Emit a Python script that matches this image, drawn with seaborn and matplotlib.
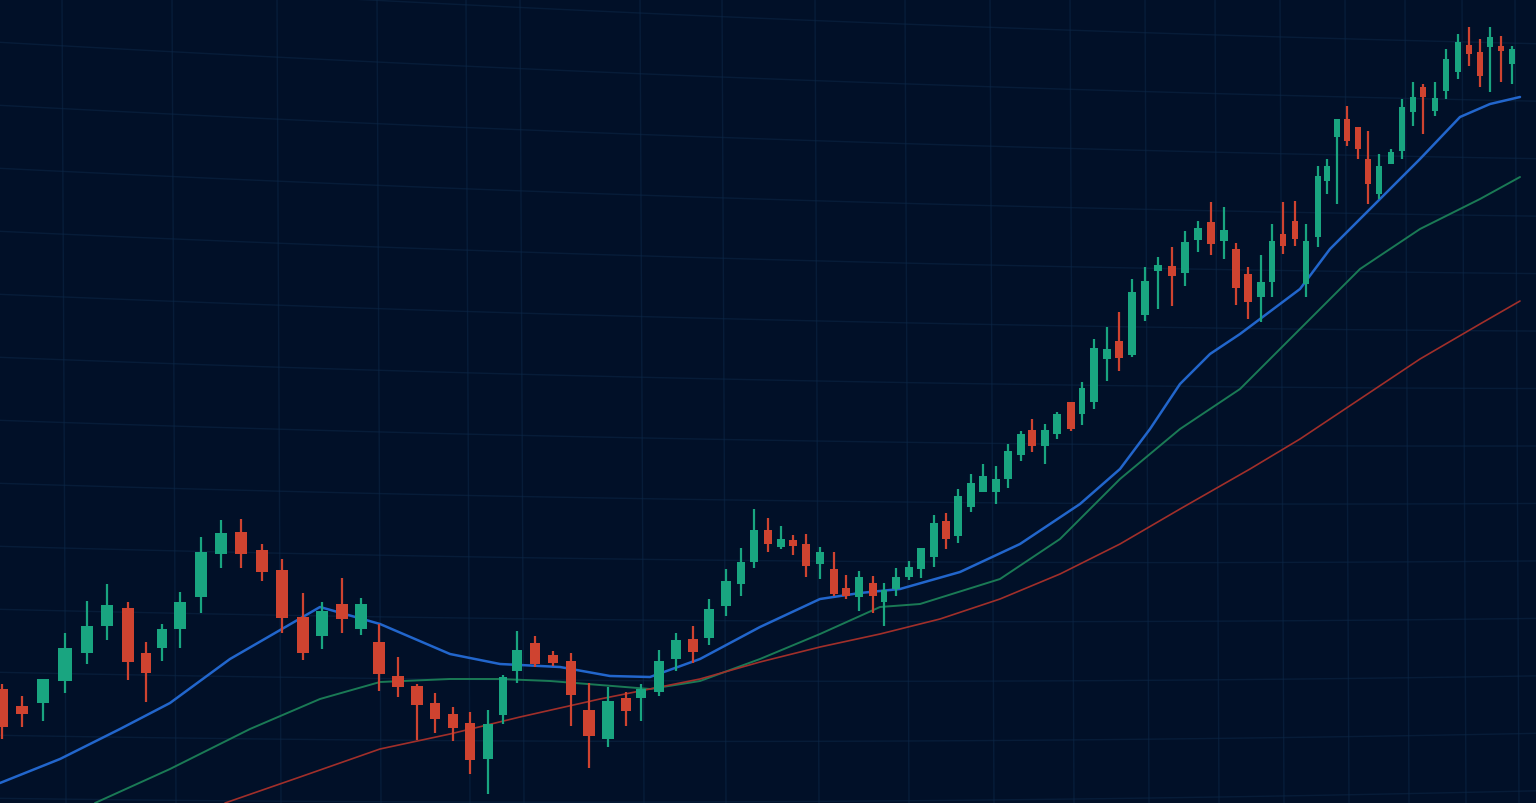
import numpy as np
import pandas as pd
import matplotlib
matplotlib.use("Agg")
import matplotlib.pyplot as plt
import seaborn as sns

# candle data (time, open, close, high, low in screen-like units, larger = lower)
t = [2, 22, 43, 65, 87, 107, 128, 146, 162, 180, 201, 221, 241, 262, 282, 303, 322, 342, 361, 379,
     398, 417, 435, 453, 470, 488, 503, 517, 535, 553, 571, 589, 608, 626, 641, 659, 676, 693, 709, 726,
     741, 754, 768, 781, 793, 806, 820, 834, 846, 859, 873, 884, 896, 909, 921, 934, 946, 958, 971, 983,
     996, 1008, 1021, 1032, 1045, 1057, 1071, 1082, 1094, 1107, 1119, 1132, 1145, 1158, 1172, 1185, 1198, 1211, 1224, 1236,
     1248, 1261, 1272, 1283, 1295, 1306, 1318, 1327, 1337, 1347, 1358, 1368, 1379, 1391, 1402, 1413, 1423, 1435, 1446, 1458,
     1469, 1480, 1490, 1501, 1512]
o = [690, 707, 704, 682, 654, 627, 609, 654, 649, 630, 598, 555, 533, 551, 571, 618, 637, 605, 630, 643,
     677, 687, 704, 715, 724, 760, 716, 672, 644, 656, 662, 711, 740, 699, 699, 693, 660, 640, 639, 607,
     585, 563, 531, 548, 541, 545, 565, 570, 589, 598, 584, 603, 590, 578, 570, 558, 522, 537, 508, 493,
     493, 480, 456, 431, 447, 435, 403, 415, 403, 360, 342, 356, 316, 272, 267, 274, 241, 223, 242, 250,
     275, 298, 283, 235, 222, 285, 238, 182, 138, 120, 128, 160, 195, 165, 152, 113, 88, 112, 92, 73,
     46, 53, 48, 47, 65]
c = [728, 715, 680, 649, 627, 606, 663, 674, 630, 603, 553, 534, 555, 573, 619, 654, 612, 620, 605, 675,
     688, 706, 720, 729, 761, 725, 678, 651, 665, 664, 696, 737, 702, 712, 690, 662, 641, 653, 610, 582,
     563, 531, 545, 540, 547, 567, 553, 595, 597, 578, 597, 591, 578, 568, 549, 524, 540, 497, 484, 477,
     480, 452, 435, 447, 431, 415, 430, 389, 349, 350, 359, 293, 282, 266, 277, 243, 229, 245, 231, 289,
     303, 283, 242, 247, 240, 242, 177, 167, 120, 142, 150, 185, 167, 153, 108, 98, 98, 99, 60, 43,
     55, 77, 38, 52, 50]
hi = [685, 697, 680, 634, 602, 585, 603, 643, 625, 593, 538, 521, 520, 545, 560, 594, 603, 579, 599, 625,
      658, 685, 694, 708, 713, 711, 676, 632, 637, 652, 654, 684, 688, 693, 685, 651, 634, 627, 600, 570,
      549, 510, 519, 527, 536, 535, 548, 553, 576, 572, 577, 584, 569, 562, 549, 516, 514, 490, 475, 465,
      467, 445, 432, 420, 425, 413, 403, 383, 340, 328, 313, 280, 268, 258, 248, 232, 222, 203, 208, 244,
      268, 256, 225, 203, 202, 225, 167, 160, 128, 107, 128, 132, 155, 150, 100, 83, 85, 83, 50, 35,
      28, 40, 28, 37, 47]
lo = [740, 728, 722, 694, 665, 641, 681, 703, 662, 649, 614, 569, 569, 582, 634, 661, 650, 634, 636, 692,
      698, 741, 734, 742, 775, 795, 725, 684, 668, 667, 727, 769, 748, 727, 722, 697, 672, 664, 646, 617,
      597, 569, 553, 550, 556, 578, 580, 597, 600, 612, 614, 627, 597, 581, 579, 568, 550, 544, 513, 493,
      505, 489, 462, 453, 465, 440, 432, 426, 410, 382, 372, 358, 322, 310, 307, 287, 253, 256, 260, 306,
      320, 323, 298, 255, 247, 298, 248, 195, 205, 147, 160, 205, 200, 165, 160, 127, 135, 117, 100, 80,
      67, 88, 93, 83, 85]

# moving averages
ma_fast_t = [0, 60, 120, 170, 230, 320, 380, 450, 500, 560, 610, 650, 700, 760, 820, 860, 900, 960, 1020, 1080,
             1120, 1150, 1180, 1210, 1240, 1260, 1300, 1330, 1380, 1420, 1460, 1490, 1520]
ma_fast = [784, 760, 730, 704, 660, 608, 625, 655, 665, 668, 677, 678, 660, 628, 600, 594, 590, 573, 545, 505,
           470, 430, 385, 355, 335, 320, 290, 250, 200, 160, 118, 105, 98]
ma_mid_t = [95, 170, 250, 320, 380, 450, 500, 550, 600, 650, 700, 760, 820, 880, 920, 1000, 1060, 1120, 1180, 1240,
            1300, 1360, 1420, 1480, 1520]
ma_mid = [804, 770, 730, 700, 683, 680, 680, 682, 686, 690, 682, 660, 635, 608, 605, 580, 540, 480, 430, 390,
          330, 270, 230, 200, 178]
ma_slow_t = [225, 300, 380, 450, 520, 600, 650, 700, 760, 820, 880, 940, 1000, 1060, 1120, 1180, 1250, 1300, 1360, 1420,
             1480, 1520]
ma_slow = [804, 778, 750, 735, 718, 700, 690, 680, 663, 648, 635, 620, 600, 575, 545, 510, 470, 440, 400, 360,
           325, 302]

BG = "#011028"
UP = "#19a580"
DOWN = "#cf4330"

sns.set_theme(style="dark")
fig = plt.figure(figsize=(15.36, 8.04), dpi=100, facecolor=BG)
ax = fig.add_axes([0, 0, 1, 1])
ax.set_facecolor(BG)

# faint perspective grid
gx = np.linspace(0, 1536, 50)
for base in range(-20, 820, 63):
    gy = base + 0.04 * gx * (1 - base / 700) - 0.000012 * (gx - 800) ** 2 + 8
    ax.plot(gx, gy, color="#0c2747", lw=1, alpha=0.55, zorder=0)
for vx in [62, 172, 277, 377, 466, 520, 640, 722, 815, 905, 990, 1070, 1145, 1215, 1280, 1345, 1405, 1462, 1515]:
    ax.plot([vx, vx + 4], [0, 804], color="#0c2747", lw=1, alpha=0.55, zorder=0)

df = pd.DataFrame({"t": t, "o": o, "c": c, "hi": hi, "lo": lo})
df["up"] = df["c"] < df["o"]
df["col"] = np.where(df["up"], UP, DOWN)
width = np.gradient(df["t"].to_numpy()) * 0.6

ax.vlines(df["t"], df["hi"], df["lo"], colors=df["col"], lw=1.6, zorder=3)
ax.bar(df["t"], (df["c"] - df["o"]).abs().clip(lower=3), bottom=np.minimum(df["o"], df["c"]),
       width=width, color=df["col"], linewidth=0, zorder=4)

sns.lineplot(x=ma_fast_t, y=ma_fast, ax=ax, color="#2266cc", lw=1.8, zorder=2)
sns.lineplot(x=ma_mid_t, y=ma_mid, ax=ax, color="#1a7a55", lw=1.4, zorder=2)
sns.lineplot(x=ma_slow_t, y=ma_slow, ax=ax, color="#a12f2a", lw=1.2, zorder=2)

ax.set_xlim(0, 1536)
ax.set_ylim(804, 0)
ax.set_axis_off()
fig.savefig("out.png", dpi=100, facecolor=BG)
